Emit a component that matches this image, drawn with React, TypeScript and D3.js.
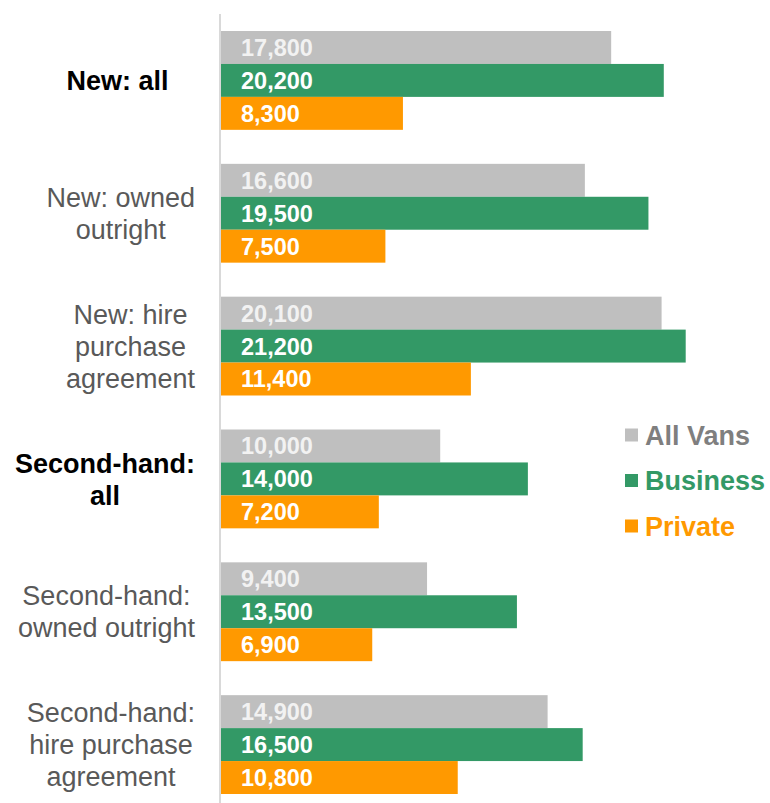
import { useRef, useEffect } from "react";
import { select, scaleBand, scaleLinear } from "d3";

const categories = [
  "New: all",
  "New: owned outright",
  "New: hire purchase agreement",
  "Second-hand: all",
  "Second-hand: owned outright",
  "Second-hand: hire purchase agreement",
];
// how each category label wraps on the axis
const categoryLines = [
  ["New: all"],
  ["New: owned", "outright"],
  ["New: hire", "purchase", "agreement"],
  ["Second-hand:", "all"],
  ["Second-hand:", "owned outright"],
  ["Second-hand:", "hire purchase", "agreement"],
];
const boldCategories = ["New: all", "Second-hand: all"];

const seriesNames = ["All Vans", "Business", "Private"];
const allVans = [17800, 16600, 20100, 10000, 9400, 14900];
const business = [20200, 19500, 21200, 14000, 13500, 16500];
const privateVans = [8300, 7500, 11400, 7200, 6900, 10800];

const barColors = ["#bfbfbf", "#339966", "#ff9900"];
const legendTextColors = ["#7f7f7f", "#339966", "#ff9900"];
const valueTextColors = ["#f2f2f2", "#ffffff", "#ffffff"];

const width = 770;
const height = 803;

const App = () => {
  const svgRef = useRef(null);

  useEffect(() => {
    const svg = select(svgRef.current);
    svg.selectAll("*").remove();

    const values = [allVans, business, privateVans];

    const xScale = scaleLinear().domain([0, 25000]).range([221, 769]);
    const yScale = scaleBand()
      .domain(categories)
      .range([14, 811])
      .paddingInner(0.256)
      .paddingOuter(0.128);
    const inner = scaleBand()
      .domain(seriesNames)
      .range([0, yScale.bandwidth()]);

    const font = "'Liberation Sans', Arial, sans-serif";

    // bars and value labels
    seriesNames.forEach((name, si) => {
      const g = svg.append("g");
      g.selectAll("rect")
        .data(categories)
        .join("rect")
        .attr("x", xScale(0))
        .attr("y", (c) => yScale(c) + inner(name))
        .attr("width", (c, i) => xScale(values[si][i]) - xScale(0))
        .attr("height", inner.bandwidth())
        .attr("fill", barColors[si]);

      g.selectAll("text")
        .data(categories)
        .join("text")
        .attr("x", xScale(0) + 20)
        .attr("y", (c) => yScale(c) + inner(name) + inner.bandwidth() / 2)
        .attr("dy", "0.36em")
        .attr("font-family", font)
        .attr("font-weight", "bold")
        .attr("font-size", 23.5)
        .attr("fill", valueTextColors[si])
        .text((c, i) => values[si][i].toLocaleString("en-GB"));
    });

    // vertical axis line
    svg
      .append("line")
      .attr("x1", 220)
      .attr("x2", 220)
      .attr("y1", 14)
      .attr("y2", 811)
      .attr("stroke", "#d9d9d9")
      .attr("stroke-width", 2);

    // category labels: lines centred inside a block right-aligned at 195
    const lineHeight = 32;
    categories.forEach((cat, ci) => {
      const lines = categoryLines[ci];
      const bold = boldCategories.includes(cat);
      const cy = yScale(cat) + yScale.bandwidth() / 2;
      const g = svg.append("g");
      const texts = g
        .selectAll("text")
        .data(lines)
        .join("text")
        .attr("font-family", font)
        .attr("font-size", 27)
        .attr("font-weight", bold ? "bold" : "normal")
        .attr("fill", bold ? "#000000" : "#595959")
        .attr("text-anchor", "middle")
        .attr("dy", "0.36em")
        .attr(
          "y",
          (d, i) => cy + (i - (lines.length - 1) / 2) * lineHeight
        )
        .text((d) => d);
      let maxW = 0;
      texts.each(function () {
        maxW = Math.max(maxW, this.getComputedTextLength());
      });
      // single-line labels sit in a wider box
      const blockW = lines.length === 1 ? Math.max(maxW, 155) : maxW;
      texts.attr("x", 195 - blockW / 2);
    });

    // legend
    const legend = svg.append("g");
    seriesNames.forEach((name, si) => {
      const cy = 435 + si * 45.5;
      legend
        .append("rect")
        .attr("x", 625)
        .attr("y", cy - 6.5)
        .attr("width", 13)
        .attr("height", 13)
        .attr("fill", barColors[si]);
      legend
        .append("text")
        .attr("x", 645)
        .attr("y", cy)
        .attr("dy", "0.36em")
        .attr("font-family", font)
        .attr("font-weight", "bold")
        .attr("font-size", 27)
        .attr("fill", legendTextColors[si])
        .text(name);
    });
  }, []);

  return (
    <svg
      ref={svgRef}
      width={width}
      height={height}
      style={{ position: "absolute", left: 0, top: 0, background: "#ffffff" }}
    ></svg>
  );
};

export default App;
